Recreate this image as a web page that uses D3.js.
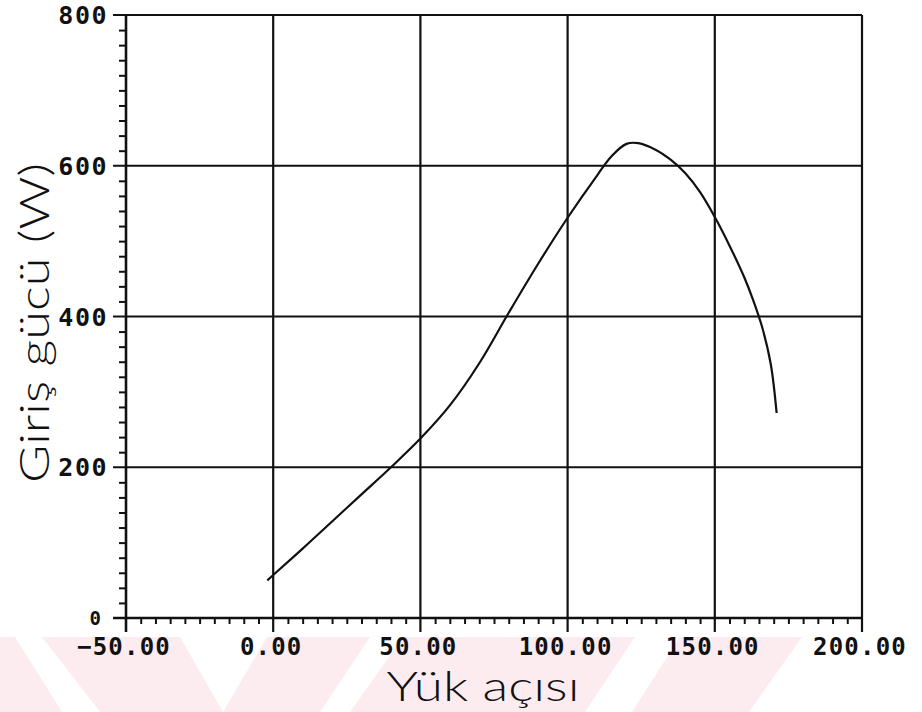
<!DOCTYPE html>
<html>
<head>
<meta charset="utf-8">
<script src="https://cdn.jsdelivr.net/npm/d3@7"></script>
<style>
  html, body { margin: 0; padding: 0; background: #fff; }
  svg { display: block; }
  .tick-label { font-family: "DejaVu Sans Mono", "Liberation Mono", monospace; font-weight: bold; fill: #111; font-feature-settings: "zero" 1; }
  .axis-title { font-family: "Lato", "DejaVu Sans", sans-serif; font-weight: 300; fill: #111; }
</style>
</head>
<body>
<script>
// Load angle (degrees) and input power (W)
const loadAngle = [-2, 0, 10, 20, 30, 40, 50, 60, 70, 80, 90, 100, 110, 115, 120, 124, 130, 135, 140, 145, 150, 155, 160, 163, 166, 169, 171];
const inputPower = [50, 57, 92, 128, 164, 200, 238, 282, 338, 405, 470, 531, 587, 613, 629, 630, 621, 608, 590, 565, 532, 494, 452, 422, 387, 337, 272];

// Axis ticks
const xMajorTicks = [-50, 0, 50, 100, 150, 200];
const yMajorTicks = [0, 200, 400, 600, 800];
const xMinorStep = 5;
const yMinorStep = 20;

const W = 922, H = 712;
const svg = d3.select("body").append("svg").attr("width", W).attr("height", H);

// Faint band across the bottom of the page
const band = svg.append("g").attr("fill", "#fdecef");
const bandShapes = [
  [[0, 637], [15, 637], [62, 712], [0, 712]],
  [[42, 637], [180, 637], [223, 712], [267, 637], [370, 637], [320, 712], [100, 712]],
  [[403, 637], [635, 637], [585, 712], [350, 712]],
  [[680, 637], [802, 637], [749, 712], [632, 712]]
];
band.selectAll("polygon").data(bandShapes).join("polygon")
  .attr("points", d => d.map(p => p.join(",")).join(" "));

const x = d3.scaleLinear().domain([-50, 200]).range([126, 862]);
const y = d3.scaleLinear().domain([0, 800]).range([618, 15]);

const ink = "#111";
const plot = svg.append("g");

// Minor ticks
const xMinor = d3.range(-50, 200 + 0.001, xMinorStep).filter(v => !xMajorTicks.includes(v));
const yMinor = d3.range(0, 800 + 0.001, yMinorStep).filter(v => !yMajorTicks.includes(v));

plot.append("g")
  .attr("transform", `translate(0,${y(0)})`)
  .call(d3.axisBottom(x).tickValues(xMinor).tickSize(6).tickFormat(""))
  .call(g => g.select(".domain").remove())
  .selectAll("line").attr("stroke", ink).attr("stroke-width", 2);

plot.append("g")
  .attr("transform", `translate(${x(-50)},0)`)
  .call(d3.axisLeft(y).tickValues(yMinor).tickSize(7).tickFormat(""))
  .call(g => g.select(".domain").remove())
  .selectAll("line").attr("stroke", ink).attr("stroke-width", 2);

// Grid lines (vertical ones run down past the axis as major ticks)
plot.append("g").selectAll("line").data(xMajorTicks).join("line")
  .attr("x1", d => x(d)).attr("x2", d => x(d))
  .attr("y1", y(800)).attr("y2", y(0) + 14)
  .attr("stroke", ink).attr("stroke-width", d => (d === -50 ? 2.6 : 2.2));

plot.append("g").selectAll("line").data(yMajorTicks).join("line")
  .attr("x1", x(-50) - 13).attr("x2", x(200))
  .attr("y1", d => y(d)).attr("y2", d => y(d))
  .attr("stroke", ink).attr("stroke-width", d => (d === 0 ? 2.6 : 2.2));

// Tick labels
svg.append("g").selectAll("text").data(xMajorTicks).join("text")
  .attr("class", "tick-label")
  .attr("x", d => x(d) - 2).attr("y", y(0) + 37)
  .attr("text-anchor", "middle")
  .attr("font-size", 24)
  .attr("letter-spacing", 1.2)
  .text(d => d3.format(".2f")(d));

svg.append("g").selectAll("text").data(yMajorTicks).join("text")
  .attr("class", "tick-label")
  .attr("x", d => (d === 0 ? 101 : 108))
  .attr("y", d => y(d) + (d === 0 ? 7 : 9))
  .attr("text-anchor", "end")
  .attr("font-size", d => (d === 0 ? 19 : 25))
  .attr("letter-spacing", d => (d === 0 ? 0 : 1.5))
  .text(d => d3.format("d")(d));

// Curve
const pts = loadAngle.map((a, i) => [a, inputPower[i]]);
plot.append("path")
  .datum(pts)
  .attr("fill", "none")
  .attr("stroke", ink)
  .attr("stroke-width", 2.2)
  .attr("d", d3.line().x(d => x(d[0])).y(d => y(d[1])).curve(d3.curveCatmullRom.alpha(0.5)));

// Axis titles
svg.append("text")
  .attr("class", "axis-title")
  .attr("x", 483).attr("y", 701)
  .attr("text-anchor", "middle")
  .attr("font-size", 41)
  .attr("textLength", 193).attr("lengthAdjust", "spacingAndGlyphs")
  .text("Yük açısı");

svg.append("text")
  .attr("class", "axis-title")
  .attr("transform", "translate(49,323) rotate(-90)")
  .attr("text-anchor", "middle")
  .attr("font-size", 42)
  .attr("textLength", 320).attr("lengthAdjust", "spacingAndGlyphs")
  .text("Giriş gücü (W)");
</script>
</body>
</html>
